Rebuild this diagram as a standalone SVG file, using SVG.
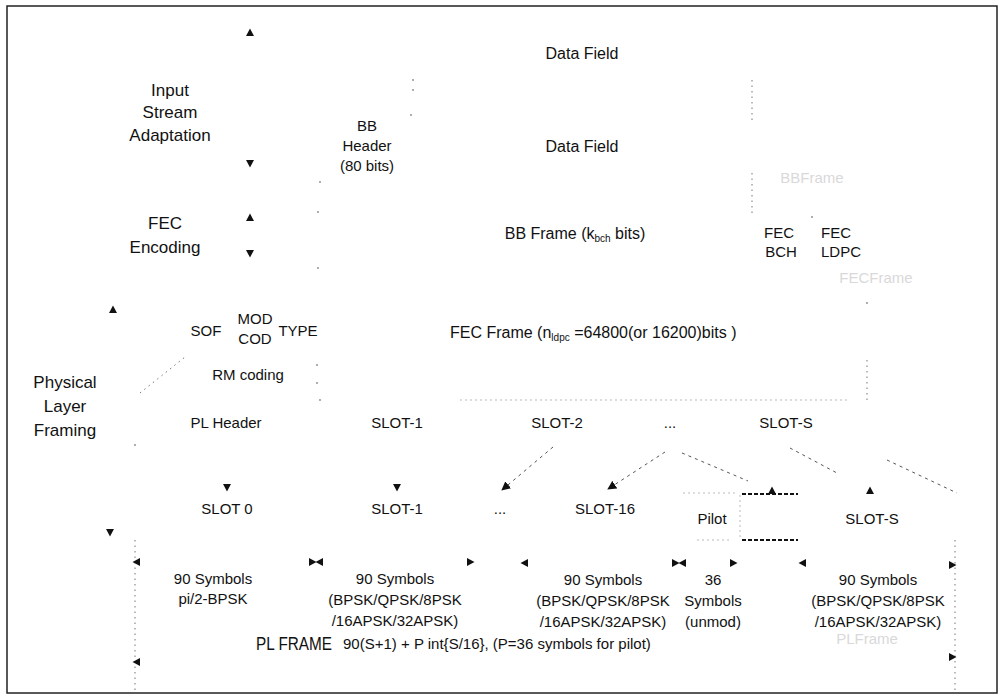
<svg xmlns="http://www.w3.org/2000/svg" width="999" height="699" viewBox="0 0 999 699">
<defs>
<style>
text{font-family:"Liberation Sans",Arial,sans-serif;fill:#111;text-anchor:middle}
.t{font-size:17px}
.m{font-size:16px}
.s{font-size:15px}
.sub{font-size:10px}
.ghost{font-size:15px;fill:#d9d9d9}
.dot{fill:none;stroke:#777;stroke-width:1;stroke-dasharray:1.5,4}
.dash{fill:none;stroke:#555;stroke-width:1;stroke-dasharray:3,4}
.bold{fill:none;stroke:#111;stroke-width:2;stroke-dasharray:4,2}
.faint{fill:none;stroke:#bbb;stroke-width:1;stroke-dasharray:2,3}
.ah{fill:#111}
.sp{fill:#888}
</style>
<path id="tu" class="ah" d="M0,-4.5 L4,3 L-4,3 Z"/>
<path id="td" class="ah" d="M0,4.5 L4,-3 L-4,-3 Z"/>
<path id="tl" class="ah" d="M-4.5,0 L3,-4 L3,4 Z"/>
<path id="tr" class="ah" d="M4.5,0 L-3,-4 L-3,4 Z"/>
<circle id="pt" class="sp" r="0.9"/>
<marker id="ar" viewBox="0 0 10 10" refX="9" refY="5" markerWidth="9" markerHeight="9" markerUnits="userSpaceOnUse" orient="auto"><path d="M0,0 L10,5 L0,10 Z" fill="#111"/></marker>
</defs>
<rect x="7" y="6" width="990" height="687" fill="#fff" stroke="#222" stroke-width="1.5"/>

<g id="connectors">
<line class="dot" x1="752" y1="80" x2="752" y2="123"/>
<line class="dot" x1="752" y1="173" x2="752" y2="217"/>
<line class="dot" x1="867" y1="360" x2="867" y2="403"/>
<line class="dot" x1="140" y1="393" x2="185" y2="357"/>
<line class="faint" x1="460" y1="400" x2="850" y2="400"/>
<line class="dot" x1="135" y1="540" x2="135" y2="690"/>
<line class="dot" x1="955" y1="540" x2="955" y2="690"/>
<line class="dash" x1="553" y1="447" x2="502" y2="490" marker-end="url(#ar)"/>
<line class="dash" x1="665" y1="452" x2="608" y2="489" marker-end="url(#ar)"/>
<line class="dash" x1="682" y1="453" x2="748" y2="481"/>
<line class="dash" x1="790" y1="448" x2="837" y2="473"/>
<line class="dash" x1="887" y1="460" x2="957" y2="493"/>
<line class="faint" x1="683" y1="493" x2="735" y2="493"/>
<line class="faint" x1="697" y1="540" x2="730" y2="540"/>
<line class="faint" x1="740" y1="495" x2="740" y2="540"/>
<line class="bold" x1="742" y1="494" x2="798" y2="494"/>
<line class="bold" x1="742" y1="540" x2="798" y2="540"/>
<use href="#pt" x="413" y="80"/><use href="#pt" x="413" y="90"/><use href="#pt" x="411" y="115"/>
<use href="#pt" x="320" y="182"/><use href="#pt" x="318" y="212"/><use href="#pt" x="318" y="268"/>
<use href="#pt" x="317" y="365"/><use href="#pt" x="317" y="383"/><use href="#pt" x="320" y="400"/>
<use href="#pt" x="812" y="217"/><use href="#pt" x="867" y="303"/><use href="#pt" x="135" y="445"/>
<use href="#tu" x="250" y="33"/>
<use href="#td" x="250" y="163"/>
<use href="#tu" x="250" y="218"/>
<use href="#td" x="250" y="253"/>
<use href="#tu" x="113" y="310"/>
<use href="#td" x="110" y="532"/>
<use href="#td" x="227" y="487"/>
<use href="#td" x="397" y="487"/>
<use href="#tu" x="772" y="491"/>
<use href="#tu" x="870" y="491"/>
<use href="#tl" x="137" y="562"/>
<use href="#tr" x="312" y="562"/>
<use href="#tl" x="320" y="562"/>
<use href="#tr" x="470" y="562"/>
<use href="#tl" x="525" y="563"/>
<use href="#tr" x="675" y="563"/>
<use href="#tl" x="683" y="563"/>
<use href="#tr" x="733" y="563"/>
<use href="#tl" x="803" y="563"/>
<use href="#tr" x="952" y="565"/>
<use href="#tl" x="137" y="662"/>
<use href="#tr" x="952" y="657"/>
</g>

<g id="isa"><text class="t" x="170" y="96">Input</text><text class="t" x="170" y="118">Stream</text><text class="t" x="170" y="141">Adaptation</text></g>
<g id="fec"><text class="t" x="165" y="229">FEC</text><text class="t" x="165" y="253">Encoding</text></g>
<g id="plf"><text class="t" x="65" y="388">Physical</text><text class="t" x="65" y="412">Layer</text><text class="t" x="65" y="436">Framing</text></g>

<g id="datafield1"><text class="m" x="582" y="59">Data Field</text></g>
<g id="bbheader"><text class="s" x="367" y="131">BB</text><text class="s" x="367" y="151">Header</text><text class="s" x="367" y="171">(80 bits)</text></g>
<g id="datafield2"><text class="m" x="582" y="152">Data Field</text></g>
<g id="bbframe"><text class="m" x="575" y="239">BB Frame (k<tspan class="sub" dy="3">bch</tspan><tspan dy="-3"> bits)</tspan></text></g>
<g id="fecbch"><text class="s" x="779" y="238">FEC</text><text class="s" x="781" y="257">BCH</text></g>
<g id="fecldpc"><text class="s" x="836" y="238">FEC</text><text class="s" x="841" y="257">LDPC</text></g>
<g id="ghosts"><text class="ghost" x="812" y="183">BBFrame</text><text class="ghost" x="876" y="283">FECFrame</text><text class="ghost" x="867" y="644">PLFrame</text></g>

<g id="plheader-fields"><text class="s" x="206" y="336">SOF</text><text class="s" x="255" y="324">MOD</text><text class="s" x="255" y="344">COD</text><text class="s" x="298" y="336">TYPE</text></g>
<g id="fecframe"><text class="m" x="450" y="338" style="text-anchor:start">FEC Frame (n<tspan class="sub" dy="3">ldpc</tspan><tspan dy="-3"> =64800(or 16200)bits )</tspan></text></g>
<g id="rmcoding"><text class="s" x="248" y="380">RM coding</text></g>

<g id="row1"><text class="s" x="226" y="428">PL Header</text><text class="s" x="397" y="428">SLOT-1</text><text class="s" x="557" y="428">SLOT-2</text><text class="s" x="670" y="428">...</text><text class="s" x="786" y="428">SLOT-S</text></g>

<g id="row2"><text class="s" x="227" y="514">SLOT  0</text><text class="s" x="397" y="514">SLOT-1</text><text class="s" x="500" y="514">...</text><text class="s" x="605" y="514">SLOT-16</text><text class="s" x="712" y="524">Pilot</text><text class="s" x="872" y="524">SLOT-S</text></g>

<g id="sym0"><text class="s" x="213" y="584">90 Symbols</text><text class="s" x="213" y="604">pi/2-BPSK</text></g>
<g id="sym1"><text class="s" x="395" y="584">90 Symbols</text><text class="s" x="395" y="605">(BPSK/QPSK/8PSK</text><text class="s" x="395" y="626">/16APSK/32APSK)</text></g>
<g id="sym16"><text class="s" x="603" y="585">90 Symbols</text><text class="s" x="603" y="606">(BPSK/QPSK/8PSK</text><text class="s" x="603" y="627">/16APSK/32APSK)</text></g>
<g id="sympilot"><text class="s" x="713" y="585">36</text><text class="s" x="713" y="606">Symbols</text><text class="s" x="713" y="627">(unmod)</text></g>
<g id="symS"><text class="s" x="878" y="585">90 Symbols</text><text class="s" x="878" y="606">(BPSK/QPSK/8PSK</text><text class="s" x="878" y="627">/16APSK/32APSK)</text></g>
<g id="plframe"><text style="font-size:18px;text-anchor:start" x="256" y="650" textLength="76" lengthAdjust="spacingAndGlyphs">PL FRAME</text><text class="s" style="text-anchor:start" x="343" y="649">90(S+1) + P int{S/16}, (P=36 symbols for pilot)</text></g>
</svg>
